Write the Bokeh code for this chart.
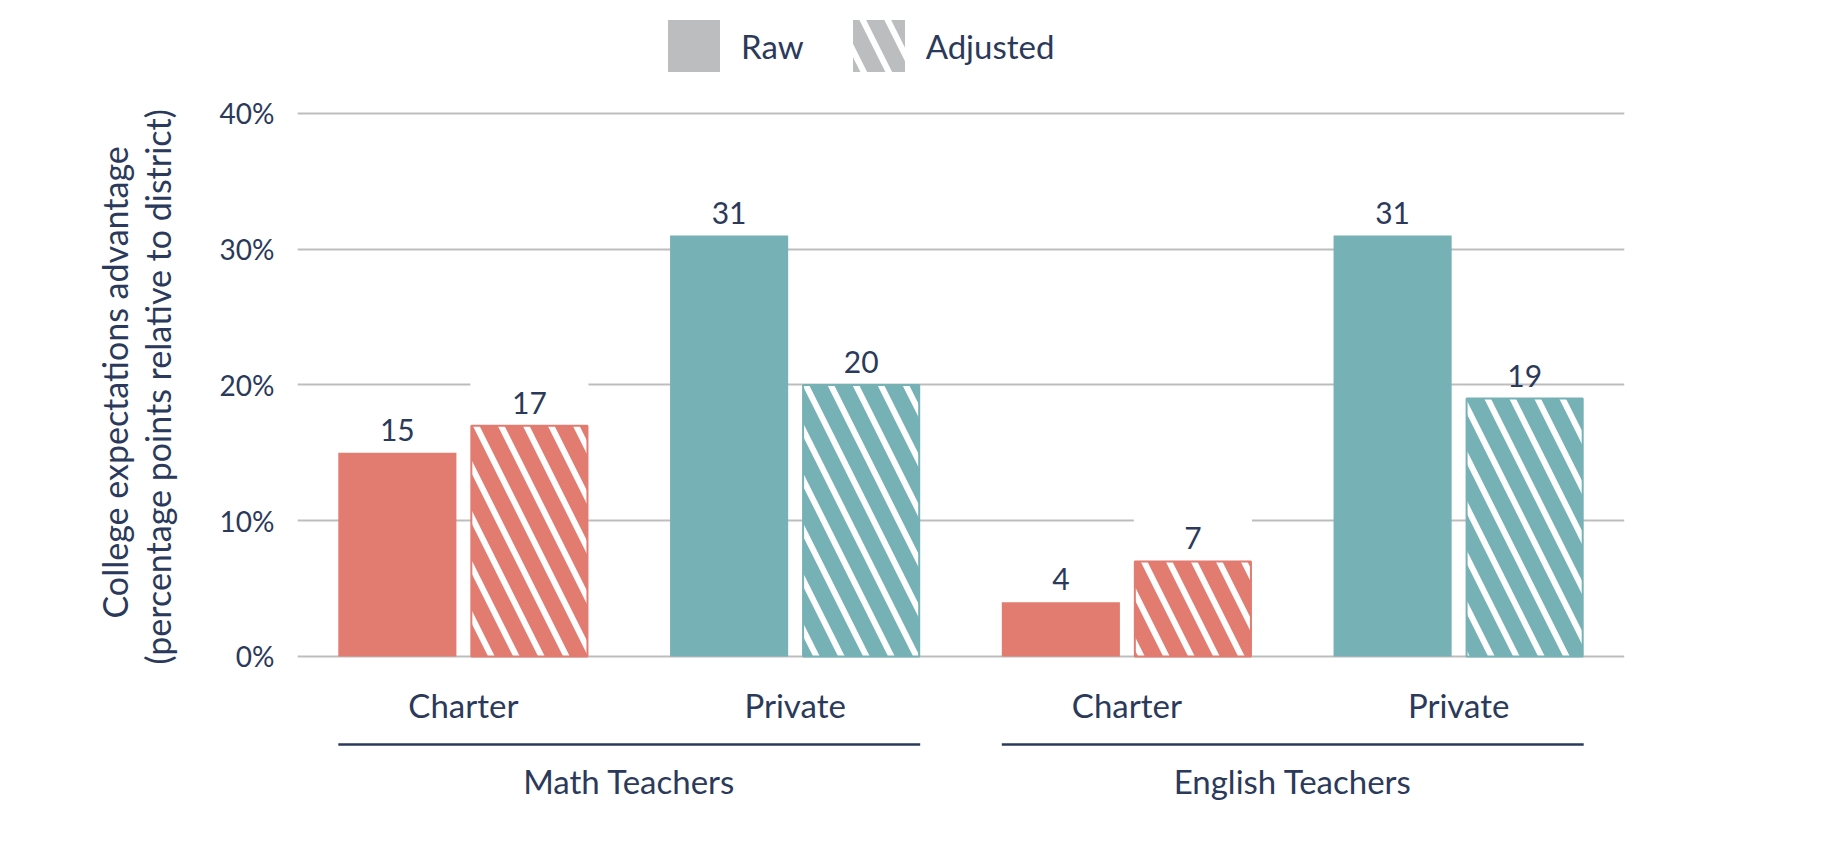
from bokeh.plotting import figure
from bokeh.models import (ColumnDataSource, FactorRange, Range1d, FixedTicker,
                          PrintfTickFormatter, Legend, LegendItem, Title)
from bokeh.transform import dodge
from bokeh.core.properties import value
from bokeh.embed import file_html
from bokeh.resources import INLINE

# ---------------- data ----------------
groups = ["Math Teachers", "English Teachers"]
sectors = ["Charter", "Private"]
raw = [15, 31, 4, 31]
adjusted = [17, 20, 7, 19]
sector_colors = {"Charter": "#e27b70", "Private": "#76b1b6"}
series_names = ["Raw", "Adjusted"]
y_ticks = [0, 10, 20, 30, 40]
axis_title_lines = ["College expectations advantage",
                    "(percentage points relative to district)"]

# ---------------- styling ----------------
NAVY = "#2b3a5a"
GRID = "#bdbdbd"
GREY = "#bcbdbf"
FONT = "Lato"
BW = 0.356          # bar width (category units)
OFF = 0.199         # dodge offset of each bar
PX_PER_UNIT = 13.575
LABEL_BASE = 23 / PX_PER_UNIT     # gap bar top -> label baseline
LABEL_BOX = 34 / PX_PER_UNIT      # bar top -> label box centre
CAT_Y = -3.58
LINE_Y = -6.48
GROUP_Y = -9.14
HATCH_SCALE = 50
HATCH_WEIGHT = 6

factors = [(g, s) for g in groups for s in sectors]
colors = [sector_colors[s] for g in groups for s in sectors]

p = figure(width=1828, height=846,
           x_range=FactorRange(factors=factors, factor_padding=0, group_padding=0,
                               subgroup_padding=0, range_padding=0),
           y_range=Range1d(-14.0, 48.32),
           output_backend="svg", toolbar_location=None,
           x_axis_location=None, y_axis_location="left",
           min_border=0, min_border_left=297, min_border_right=204,
           min_border_top=0, min_border_bottom=0,
           outline_line_color=None)

p.background_fill_color = "white"
p.border_fill_color = "white"

# axis
ax = p.yaxis[0]
ax.ticker = FixedTicker(ticks=y_ticks)
ax.formatter = PrintfTickFormatter(format="%d%%")
ax.axis_line_color = None
ax.major_tick_line_color = None
ax.minor_tick_line_color = None
ax.major_tick_out = 0
ax.major_tick_in = 0
ax.major_label_standoff = 23
ax.major_label_text_font = FONT
ax.major_label_text_font_size = "28px"
ax.major_label_text_color = NAVY
# blank axis label only reserves room between tick labels and the title lines
ax.axis_label = " "
ax.axis_label_text_font_size = "10px"
ax.axis_label_standoff = 25

# axis title as two left-side titles (inner line first); aligned from the bottom
for line, off in [(axis_title_lines[1], 182), (axis_title_lines[0], 228)]:
    p.add_layout(Title(text=line, align="left", offset=off, standoff=0,
                       text_font=FONT, text_font_size="34px", text_font_style="normal",
                       text_color=NAVY), "left")

p.ygrid.ticker = FixedTicker(ticks=y_ticks)
p.ygrid.grid_line_color = GRID
p.ygrid.grid_line_width = 2
p.xgrid.visible = False

src = ColumnDataSource(dict(
    x=factors, raw=raw, adj=adjusted, color=colors,
    raw_lab=[str(v) for v in raw], adj_lab=[str(v) for v in adjusted],
    raw_base=[v + LABEL_BASE for v in raw], adj_base=[v + LABEL_BASE for v in adjusted],
    raw_box=[v + LABEL_BOX for v in raw], adj_box=[v + LABEL_BOX for v in adjusted],
))

# bars
p.vbar(x=dodge("x", -OFF, range=p.x_range), top="raw", bottom=0, width=BW,
       source=src, fill_color="color", line_color=None)
p.vbar(x=dodge("x", OFF, range=p.x_range), top="adj", bottom=0, width=BW - 0.006,
       source=src, fill_color="color", line_color="color", line_width=2,
       hatch_pattern="\\", hatch_color="white", hatch_scale=HATCH_SCALE,
       hatch_weight=HATCH_WEIGHT)

# value labels with white boxes
for off, box, base, lab in [(-OFF, "raw_box", "raw_base", "raw_lab"),
                            (OFF, "adj_box", "adj_base", "adj_lab")]:
    p.rect(x=dodge("x", off, range=p.x_range), y=box, width=BW, height=26,
           height_units="screen", source=src, fill_color="white", line_color=None)
    p.text(x=dodge("x", off, range=p.x_range), y=base, text=lab, source=src,
           text_align="center", text_baseline="alphabetic",
           text_font=value(FONT), text_font_size="30px", text_color=NAVY)

# category labels
cat_src = ColumnDataSource(dict(x=factors, label=[s for g in groups for s in sectors]))
p.text(x="x", y=CAT_Y, text="label", source=cat_src, text_align="center",
       text_baseline="alphabetic", text_font=value(FONT), text_font_size="33px",
       text_color=NAVY)

# group underline + group labels
SPAN = 0.5 + OFF + BW / 2
grp_src = ColumnDataSource(dict(g=groups))
p.segment(x0=dodge("g", -SPAN, range=p.x_range), x1=dodge("g", SPAN, range=p.x_range),
          y0=LINE_Y, y1=LINE_Y, source=grp_src, line_color=NAVY, line_width=2.5)
p.text(x="g", y=GROUP_Y, text="g", source=grp_src, text_align="center",
       text_baseline="alphabetic", text_font=value(FONT), text_font_size="33px",
       text_color=NAVY)

# legend (grey swatches; their glyphs are zero-height and far outside the view)
leg_src = ColumnDataSource(dict(x=[factors[0]], top=[-100], bottom=[-100]))
r_raw = p.vbar(x="x", top="top", bottom="bottom", width=0.0, source=leg_src,
               fill_color=GREY, line_color=None)
r_adj = p.vbar(x="x", top="top", bottom="bottom", width=0.0, source=leg_src,
               fill_color=GREY, line_color=None,
               hatch_pattern="\\", hatch_color="white", hatch_scale=HATCH_SCALE,
               hatch_weight=HATCH_WEIGHT)
legend = Legend(items=[LegendItem(label=series_names[0], renderers=[r_raw]),
                       LegendItem(label=series_names[1], renderers=[r_adj])],
                location=(364, 768), orientation="horizontal",
                glyph_width=65, glyph_height=65, label_standoff=15, spacing=42,
                padding=0, margin=0, border_line_color=None, background_fill_alpha=0,
                label_text_font=FONT, label_text_font_size="33px", label_text_color=NAVY,
                label_text_baseline="middle")
p.add_layout(legend)

open("out.html", "w").write(file_html(p, INLINE))
